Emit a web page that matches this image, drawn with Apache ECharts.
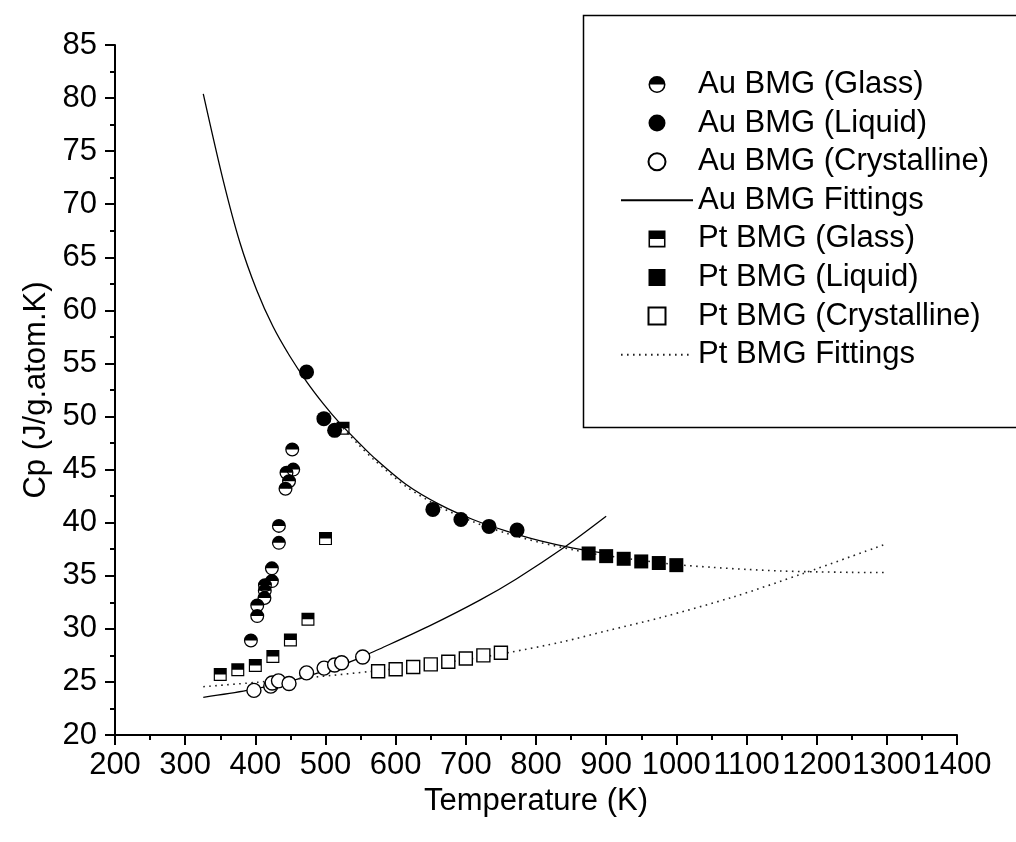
<!DOCTYPE html>
<html>
<head>
<meta charset="utf-8">
<script src="https://cdn.jsdelivr.net/npm/echarts@6/dist/echarts.min.js"></script>
<style>html,body{margin:0;padding:0;background:#fff}#c{width:1016px;height:842px}</style>
</head>
<body>
<div id="c"></div>
<script>
// ---- data (T in K, Cp in J/g.atom.K) ----
const xTicks = [200, 1400, 100];
const yTicks = [20, 85, 5];
const auGlass = [[393.7,28.9],[402.7,31.2],[402.7,32.2],[413,32.9],[413.5,33.6],[413.7,34.1],[423.6,34.5],[423.6,35.7],[433.6,38.1],[433.6,39.7],[443,43.2],[448,43.9],[444.4,44.7],[454,45.0],[452.6,46.9]];
const auLiquid = [[473,54.2],[497.7,49.8],[513,48.7],[653,41.25],[693,40.3],[733,39.65],[773,39.3]];
const auCryst = [[398,24.2],[422,24.6],[424,24.9],[433,25.1],[448,24.85],[473,25.85],[498,26.3],[513,26.6],[523,26.8],[553,27.35]];
const auFitLiquid = [[325.8,80.4],[354,72.3],[378,66.4],[402,61.9],[425,58.5],[449,55.7],[473,53.3],[497,51.2],[520,49.4],[545,47.7],[568,46.2],[615,43.6],[663,41.7],[710,40.3],[758,39.2],[805,38.3],[853,37.6],[900,37.1]];
const auFitCryst = [[325.8,23.55],[388,24.2],[459,25.25],[530,26.75],[553,27.4],[577,28.1],[649,30.3],[720,32.7],[772,34.7],[843,37.8],[900,40.6]];
const ptGlass = [[350,25.7],[375,26.15],[400,26.55],[425,27.4],[450,28.95],[475,30.9],[500,38.5],[525,48.9]];
const ptLiquid = [[875,37.1],[900,36.85],[925,36.6],[950,36.35],[975,36.2],[1000,36.0]];
const ptCryst = [[575,26.0],[600,26.2],[625,26.4],[650,26.65],[675,26.9],[700,27.2],[725,27.5],[750,27.75]];
const ptFitLiquid = [[525,48.9],[545,47.5],[568,46.0],[615,43.4],[663,41.5],[710,40.1],[758,39.0],[805,38.15],[853,37.45],[875,37.15],[900,36.9],[950,36.45],[1000,36.05],[1050,35.8],[1100,35.6],[1150,35.45],[1200,35.37],[1250,35.32],[1300,35.3]];
const ptFitCryst = [[325.8,24.55],[400,24.95],[483,25.45],[566,26.0],[625,26.45],[700,27.1],[760,27.75],[839,28.8],[900,29.8],[980,31.1],[1081,33.0],[1180,35.2],[1299,38.0]];
const names = ['Au BMG (Glass)','Au BMG (Liquid)','Au BMG (Crystalline)','Au BMG Fittings','Pt BMG (Glass)','Pt BMG (Liquid)','Pt BMG (Crystalline)','Pt BMG Fittings'];

const FONT = 'Liberation Sans, Arial, Helvetica, sans-serif';
const halfCircle = 'path://M0,10A10,10,0,1,1,20,10A10,10,0,1,1,0,10ZM1.8,10A8.2,8.2,0,0,0,18.2,10Z';
const halfSquare = 'path://M0,0H20V20H0ZM1.8,10V18.2H18.2V10Z';
const square = 'path://M0,0H20V20H0Z';

const chart = echarts.init(document.getElementById('c'), null, {renderer: 'canvas'});
const fitLine = (name, data, dotted) => ({
  name, type: 'line', data, smooth: 0.3, symbol: 'none', showSymbol: false, z: 2,
  lineStyle: dotted ? {color: '#222', width: 1.6, type: [1.6, 4.4]} : {color: '#000', width: 1.3, type: 'solid'},
  itemStyle: {color: '#000'}
});
const scatter = (name, data, symbol, size, fill, border) => ({
  name, type: 'scatter', data, symbol, symbolSize: size, z: 5,
  itemStyle: {color: fill, opacity: 1, borderColor: border ? '#000' : undefined, borderWidth: border ? 1.4 : 0}
});
const legendData = names.map(n => n.indexOf('Fittings') >= 0
  ? {name: n, itemStyle: {color: 'rgba(0,0,0,0)', borderColor: 'rgba(0,0,0,0)', borderWidth: 0}}
  : {name: n});

chart.setOption({
  animation: false,
  backgroundColor: '#fff',
  grid: {left: 115, right: 59, top: 45, bottom: 107},
  xAxis: {
    type: 'value', min: xTicks[0], max: xTicks[1], interval: xTicks[2],
    name: 'Temperature (K)', nameLocation: 'middle', nameGap: 50,
    nameTextStyle: {fontFamily: FONT, fontSize: 31, color: '#000'},
    axisLine: {show: true, onZero: false, lineStyle: {color: '#000', width: 2}},
    axisTick: {show: true, inside: false, length: 10, lineStyle: {color: '#000', width: 2}},
    minorTick: {show: true, splitNumber: 2, length: 5, lineStyle: {color: '#000', width: 2}},
    axisLabel: {fontFamily: FONT, fontSize: 31, color: '#000', margin: 15, interval: 0, hideOverlap: false,
      showMinLabel: true, showMaxLabel: true, formatter: v => String(v)},
    splitLine: {show: false}
  },
  yAxis: {
    type: 'value', min: yTicks[0], max: yTicks[1], interval: yTicks[2],
    name: 'Cp (J/g.atom.K)', nameLocation: 'middle', nameGap: 62, nameRotate: 90,
    nameTextStyle: {fontFamily: FONT, fontSize: 31, color: '#000'},
    axisLine: {show: true, onZero: false, lineStyle: {color: '#000', width: 2}},
    axisTick: {show: true, inside: false, length: 10, lineStyle: {color: '#000', width: 2}},
    minorTick: {show: true, splitNumber: 2, length: 5, lineStyle: {color: '#000', width: 2}},
    axisLabel: {fontFamily: FONT, fontSize: 31, color: '#000', margin: 18, interval: 0, hideOverlap: false,
      showMinLabel: true, showMaxLabel: true, formatter: v => String(v)},
    splitLine: {show: false}
  },
  legend: {
    orient: 'vertical', left: 620, top: 69, padding: 0,
    itemWidth: 72, itemHeight: 17, itemGap: 7.6,
    textStyle: {fontFamily: FONT, fontSize: 31, color: '#000', lineHeight: 31},
    data: legendData,
    selectedMode: false
  },
  graphic: [{
    type: 'rect', left: 581, top: 13, silent: true, z: 100,
    shape: {width: 434, height: 412},
    style: {fill: null, stroke: '#000', lineWidth: 1.5}
  }],
  series: [
    fitLine(names[3], auFitLiquid, false),
    fitLine(names[3], auFitCryst, false),
    fitLine(names[7], ptFitLiquid, true),
    fitLine(names[7], ptFitCryst, true),
    scatter(names[0], auGlass, halfCircle, 14, '#000', false),
    scatter(names[1], auLiquid, 'circle', 15, '#000', false),
    scatter(names[2], auCryst, 'circle', 14, '#fff', true),
    scatter(names[4], ptGlass, halfSquare, 13, '#000', false),
    scatter(names[5], ptLiquid, square, 14, '#000', false),
    scatter(names[6], ptCryst, square, 13, '#fff', true)
  ]
});
</script>
</body>
</html>
